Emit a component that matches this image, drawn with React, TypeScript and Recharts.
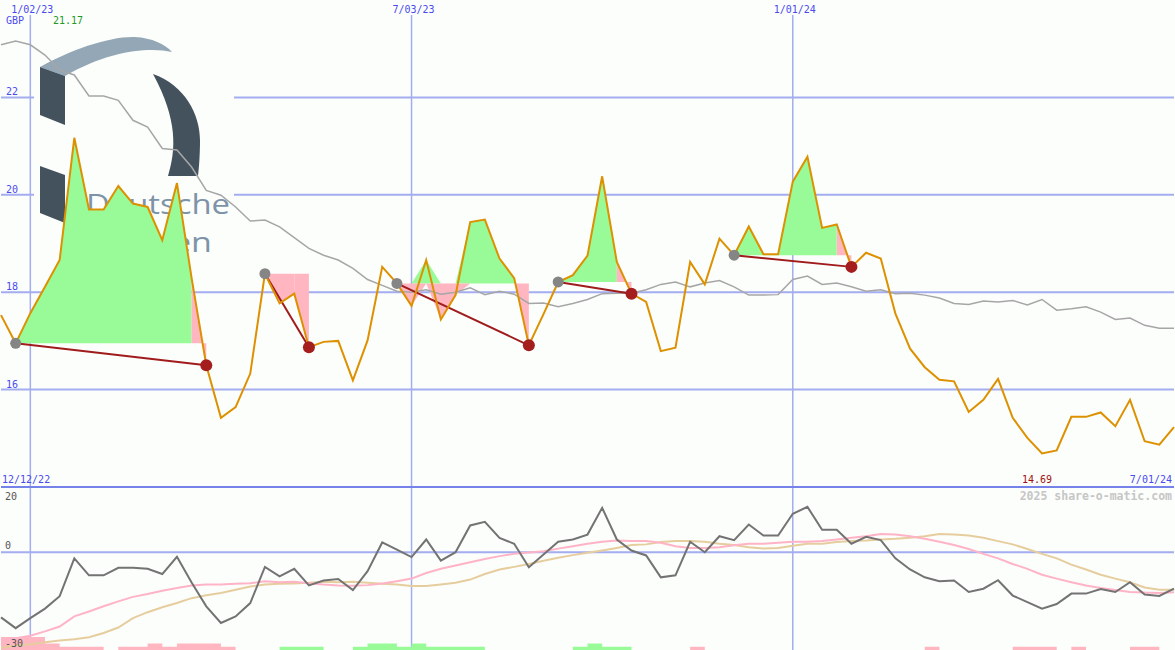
import { ComposedChart, Line, Area, XAxis, YAxis, CartesianGrid, ReferenceLine, Customized } from 'recharts'

const BG = '#fcfefc'
const GRID = '#a3adf0'
const BLUE = '#4a4aee'
const MONO = '"DejaVu Sans Mono", monospace'

// weekly points, 12/19/22 .. 7/01/24
const tickIdx = [2, 28, 54]
const tickLabels = ['1/02/23', '7/03/23', '1/01/24']
const firstLabel = '12/12/22'
const lastLabel = '7/01/24'
const currency = 'GBP'
const priceTicks = [16, 18, 20, 22]
const oscTicks = [20, 0, -30]

const price = [
  17.53, 16.95, 17.57, 18.11, 18.66, 21.17, 19.7, 19.7, 20.18, 19.82,
  19.75, 19.07, 20.24, 18.29, 16.5, 15.42, 15.64, 16.33, 18.38, 17.77,
  17.97, 16.87, 16.98, 17.0, 16.19, 17.01, 18.52, 18.18, 17.72, 18.66,
  17.44, 17.94, 19.44, 19.49, 18.69, 18.29, 16.91, 17.55, 18.21, 18.35,
  18.75, 20.38, 18.62, 17.97, 17.8, 16.79, 16.86, 18.62, 18.16, 19.1,
  18.76, 19.35, 18.78, 18.78, 20.27, 20.78, 19.32, 19.39, 18.52, 18.81,
  18.69, 17.56, 16.84, 16.46, 16.2, 16.17, 15.54, 15.79, 16.22, 15.42,
  15.01, 14.69, 14.75, 15.44, 15.44, 15.53, 15.25, 15.79, 14.94, 14.87,
  15.23,
]

const avg = [
  23.08, 23.16, 23.08, 22.87, 22.56, 22.46, 22.03, 22.03, 21.94, 21.53,
  21.39, 20.95, 20.92, 20.57, 20.09, 19.99, 19.75, 19.46, 19.48, 19.34,
  19.12, 18.9, 18.76, 18.66, 18.49, 18.26, 18.14, 18.02, 18.0, 18.05,
  17.96, 18.0, 18.09, 17.95, 18.02, 17.96, 17.77, 17.78, 17.7, 17.77,
  17.85, 17.97, 17.98, 17.98, 18.05, 18.16, 18.21, 18.11, 18.19, 18.24,
  18.11, 17.94, 17.94, 17.95, 18.26, 18.33, 18.16, 18.19, 18.11, 18.02,
  18.05, 17.97, 17.98, 17.94, 17.88, 17.77, 17.75, 17.82, 17.8, 17.83,
  17.74, 17.85, 17.63, 17.66, 17.7, 17.59, 17.44, 17.47, 17.32, 17.26,
  17.26,
]

const signalStart = [1, 18, 27, 38, 50]
const signalEnd = [14, 21, 36, 43, 58]

const osc = [
  -20.0, -23.3, -20.2, -17.3, -13.5, -1.9, -7.1, -7.1, -4.8, -4.8,
  -5.1, -6.7, -1.4, -9.3, -16.6, -21.7, -19.7, -15.6, -4.5, -7.4,
  -5.1, -10.2, -8.7, -8.2, -11.6, -5.8, 3.0, 0.8, -1.5, 3.9,
  -2.6, 0.0, 8.2, 9.3, 4.4, 2.6, -4.6, -0.7, 3.2, 3.9,
  5.4, 13.6, 3.9, 0.5, -1.0, -7.7, -7.1, 3.2, 0.0, 4.9,
  3.7, 8.5, 5.1, 5.1, 11.8, 13.9, 6.9, 6.9, 2.6, 4.7,
  3.7, -1.9, -5.3, -7.7, -8.9, -8.7, -12.2, -11.2, -8.6, -13.3,
  -15.3, -17.3, -15.9, -12.7, -12.7, -11.3, -12.2, -9.2, -13.0, -13.4,
  -11.2,
]

const oscFast = [
  -26.9, -26.4, -25.6, -24.3, -22.8, -19.7, -18.2, -16.6, -15.1, -13.7,
  -12.8, -11.8, -11.0, -10.2, -9.9, -9.9, -9.7, -9.5, -8.9, -9.2,
  -9.1, -9.5, -9.9, -10.2, -10.3, -10.1, -9.6, -8.9, -8.1, -6.4,
  -5.1, -4.1, -3.1, -2.1, -1.2, -0.5, -0.1, 0.3, 1.1, 1.8,
  2.6, 3.2, 3.6, 3.4, 3.4, 2.9, 1.8, 1.3, 1.3, 1.5,
  2.1, 2.6, 2.6, 2.9, 3.2, 3.2, 3.4, 3.9, 4.4, 4.9,
  5.6, 5.4, 4.9, 4.1, 3.2, 2.2, 1.0, -0.5, -1.9, -3.6,
  -5.1, -6.9, -8.1, -9.2, -10.2, -11.0, -11.6, -12.2, -12.4, -12.5,
  -12.3,
]

const oscSlow = [
  -29.4, -28.6, -28.2, -27.6, -27.1, -26.7, -26.1, -24.8, -23.1, -20.2,
  -18.4, -16.9, -15.6, -14.1, -13.2, -12.5, -11.5, -10.5, -9.9, -9.7,
  -9.6, -9.4, -9.1, -9.2, -9.1, -9.4, -9.7, -9.9, -10.4, -10.4,
  -9.9, -9.4, -8.4, -6.7, -5.3, -4.5, -3.6, -2.6, -1.7, -0.9,
  -0.2, 0.5, 1.3, 2.2, 2.4, 3.1, 3.4, 3.4, 3.2, 2.6,
  2.2, 1.5, 1.1, 1.3, 2.0, 2.6, 2.6, 3.1, 3.4, 3.6,
  3.9, 4.1, 4.4, 4.9, 5.6, 5.4, 5.1, 4.4, 3.4, 2.4,
  1.0, -0.5, -1.9, -3.8, -5.3, -6.9, -8.1, -9.2, -10.8, -11.5,
  -11.5,
]

// signed strength bars at the foot of the lower panel
const volume = [
  -4, -4, -4, -2, -1, -1, -1, 0, -1, -1,
  -2, -1, -2, -2, -2, -1, 0, 0, 0, 1,
  1, 1, 0, 0, 1, 2, 2, 1, 2, 1,
  1, 1, 1, 0, 0, 0, 0, 0, 0, 1,
  2, 1, 1, 0, 0, 0, 0, -1, 0, 0,
  0, 0, 0, 0, 0, 0, 0, 0, 0, 0,
  0, 0, 0, -1, 0, 0, 0, 0, 0, -1,
  -1, -1, 0, -1, 0, 0, 0, -1, -1, 0,
  0,
]

const rows = price.map((p, i) => {
  const row: any = {
    i,
    price: p,
    avg: avg[i],
    osc: osc[i],
    fast: oscFast[i],
    slow: oscSlow[i],
    volDown: Math.max(0, -volume[i]),
    volUp: Math.max(0, volume[i]),
    green: null,
    dip: null,
    last: null,
  }
  signalStart.forEach((s, k) => {
    const e = signalEnd[k]
    const base = price[s]
    row['sig' + k] = i === s || i === e ? p : null
    if (i >= s && i < e) {
      row.green = [base, Math.max(p, base)]
      row.dip = [Math.min(p, base), base]
    }
    if (i === e - 1 || i === e) row.last = [base, p]
  })
  return row
})

const hiPrice = Math.max(...price).toFixed(2)
const loPrice = Math.min(...price).toFixed(2)

const txt = { fontFamily: MONO, fontSize: 10 }

const signalDot = (k: number) => (props: any) => {
  const { cx, cy, index } = props
  if (cx == null || cy == null || props.value == null) return <g key={'d' + k + '-' + index} />
  const start = index === signalStart[k]
  return (
    <circle
      key={'d' + k + '-' + index}
      cx={cx}
      cy={cy}
      r={start ? 5.5 : 6}
      fill={start ? '#858585' : '#a41e1e'}
    />
  )
}

// company watermark behind the price panel
const Logo = () => (
  <g>
    <rect x={34} y={30} width={200} height={232} fill={BG} />
    <path d="M40,67 C70,50 110,36 135,37 C152,38 165,44 172,52 C150,47 110,50 65,76 Z" fill="#94a7b6" />
    <path d="M40,67 L65,76 L65,125 L40,115 Z" fill="#44525d" />
    <path d="M153,74 C185,85 200,115 200,140 C200,155 199,168 198,176 L168,176 C176,150 178,120 153,74 Z" fill="#44525d" />
    <path d="M40,166 L65,175 L65,223 L40,213 Z" fill="#44525d" />
    <text x={86} y={214} fontSize={27} fill="#7d93a8" fontFamily="'Open Sans', sans-serif" textLength={144} lengthAdjust="spacingAndGlyphs">
      Deutsche
    </text>
    <text x={172} y={252} fontSize={27} fill="#7d93a8" fontFamily="'Open Sans', sans-serif" textLength={40} lengthAdjust="spacingAndGlyphs">
      en
    </text>
  </g>
)

const MainLabels = () => (
  <g style={txt}>
    <text x={6} y={24} fill={BLUE}>{currency}</text>
    <text x={53} y={24} fill="#229922">{hiPrice}</text>
    <text x={2} y={483} fill={BLUE}>{firstLabel}</text>
    <text x={1022} y={483} fill="#a01010">{loPrice}</text>
    <text x={1172} y={483} fill={BLUE} textAnchor="end">{lastLabel}</text>
  </g>
)

// lower panel svg starts at page y=486
const Watermark = () => (
  <text x={1172} y={14} textAnchor="end" fill="#c6c6c6" fontWeight="bold" style={{ fontFamily: MONO, fontSize: 11.5 }}>
    2025 share-o-matic.com
  </text>
)

const DateTick = (props: any) => {
  const { x, payload } = props
  return (
    <text x={x + 2} y={13} textAnchor="middle" fill={BLUE} style={txt}>
      {tickLabels[tickIdx.indexOf(payload.value)]}
    </text>
  )
}

const PriceTick = (props: any) => (
  <text x={6} y={props.y - 2} fill={BLUE} style={txt}>
    {props.payload.value}
  </text>
)

const OscTick = (props: any) => {
  const v = props.payload.value
  return (
    <text x={5} y={v === 20 ? props.y + 13 : props.y - 3} fill="#555" style={txt}>
      {v}
    </text>
  )
}

export default function App() {
  return (
    <div style={{ position: 'absolute', left: 0, top: 0, width: 1175, height: 650, background: BG, overflow: 'hidden' }}>
      <div style={{ position: 'absolute', left: 0, top: 0 }}>
        <ComposedChart width={1175} height={487} data={rows} margin={{ top: 0, right: 1, bottom: 0, left: 1 }}>
          <XAxis
            dataKey="i"
            type="number"
            domain={[0, 80]}
            ticks={tickIdx}
            interval={0}
            orientation="top"
            mirror
            axisLine={false}
            tickLine={false}
            tick={DateTick}
          />
          <YAxis
            type="number"
            domain={[14, 24]}
            ticks={priceTicks}
            interval={0}
            mirror
            axisLine={false}
            tickLine={false}
            tick={PriceTick}
          />
          <CartesianGrid vertical={false} horizontalValues={priceTicks} stroke={GRID} strokeWidth={2} />
          <CartesianGrid horizontal={false} verticalValues={tickIdx} stroke={GRID} strokeWidth={1.5} y={15} height={472} />
          <Customized component={Logo} />
          <Area dataKey="green" type="linear" stroke="none" fill="#98fb98" fillOpacity={1} isAnimationActive={false} activeDot={false} />
          <Area dataKey="dip" type="linear" stroke="none" fill="#ffb6c1" fillOpacity={1} isAnimationActive={false} activeDot={false} />
          <Area dataKey="last" type="linear" stroke="none" fill="#ffb6c1" fillOpacity={1} isAnimationActive={false} activeDot={false} />
          <Line dataKey="avg" type="linear" stroke="#a6a6a6" strokeWidth={1.5} dot={false} activeDot={false} isAnimationActive={false} />
          {signalStart.map((_, k) => (
            <Line
              key={k}
              dataKey={'sig' + k}
              type="linear"
              stroke="#a01c1c"
              strokeWidth={2}
              connectNulls
              dot={signalDot(k)}
              activeDot={false}
              isAnimationActive={false}
            />
          ))}
          <Line dataKey="price" type="linear" stroke="#dd9100" strokeWidth={2} dot={false} activeDot={false} isAnimationActive={false} />
          <Customized component={MainLabels} />
        </ComposedChart>
      </div>
      <div style={{ position: 'absolute', left: 0, top: 486 }}>
        <ComposedChart width={1175} height={164} data={rows} margin={{ top: 1, right: 1, bottom: 0, left: 1 }}>
          <XAxis dataKey="i" type="number" domain={[0, 80]} ticks={tickIdx} hide />
          <YAxis
            type="number"
            domain={[-30, 20]}
            ticks={oscTicks}
            interval={0}
            mirror
            axisLine={false}
            tickLine={false}
            tick={OscTick}
          />
          <YAxis yAxisId="vol" type="number" domain={[0, 50]} hide />
          <CartesianGrid vertical={false} horizontalValues={[0]} stroke={GRID} strokeWidth={2} />
          <CartesianGrid horizontal={false} verticalValues={tickIdx} stroke={GRID} strokeWidth={1.5} />
          <ReferenceLine y={20} stroke="#7482ea" strokeWidth={2} />
          <Area yAxisId="vol" dataKey="volDown" type="stepAfter" stroke="none" fill="#ffb6c1" fillOpacity={1} isAnimationActive={false} activeDot={false} />
          <Area yAxisId="vol" dataKey="volUp" type="stepAfter" stroke="none" fill="#98fb98" fillOpacity={1} isAnimationActive={false} activeDot={false} />
          <Line dataKey="slow" type="linear" stroke="#e6cd9e" strokeWidth={2} dot={false} activeDot={false} isAnimationActive={false} />
          <Line dataKey="fast" type="linear" stroke="#ffb3c6" strokeWidth={2} dot={false} activeDot={false} isAnimationActive={false} />
          <Line dataKey="osc" type="linear" stroke="#737373" strokeWidth={2} dot={false} activeDot={false} isAnimationActive={false} />
          <Customized component={Watermark} />
        </ComposedChart>
      </div>
    </div>
  )
}
